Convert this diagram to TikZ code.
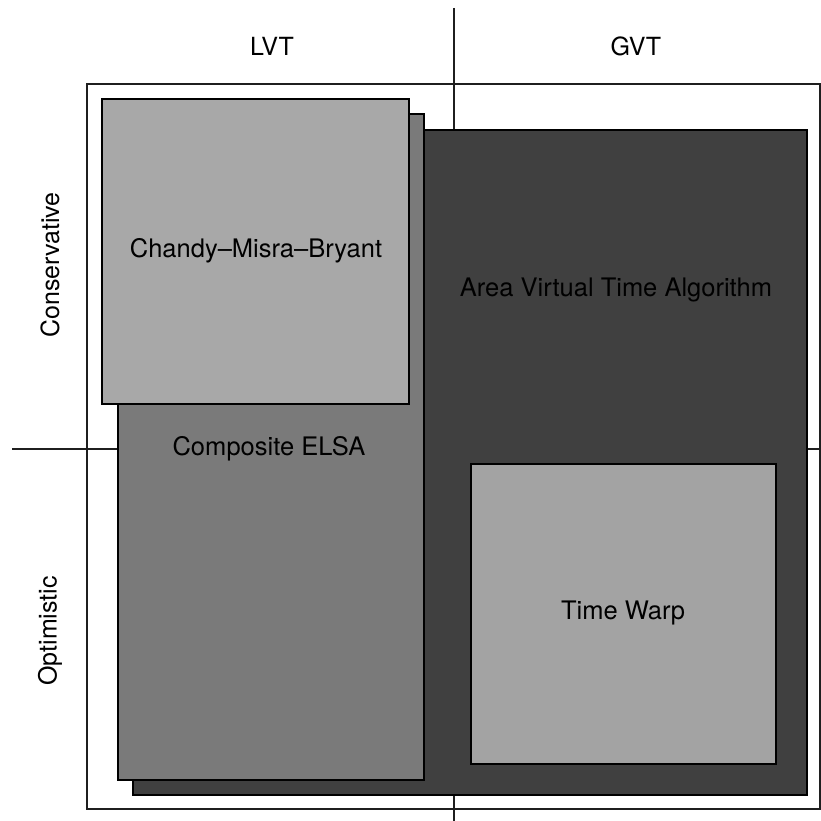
\documentclass[tikz,border=0pt]{standalone}
\usepackage{fontspec}
\setmainfont{TeX Gyre Heros}
\definecolor{lightbox}{gray}{0.66}
\definecolor{midbox}{gray}{0.48}
\definecolor{darkbox}{gray}{0.25}
\definecolor{warpbox}{gray}{0.64}
\definecolor{frameline}{gray}{0.12}
\begin{document}
\begin{tikzpicture}[x=1pt,y=-1pt,
  box/.style={draw=black,line width=1.6pt,inner sep=0pt,rectangle},
  axis/.style={draw=frameline,line width=1.5pt},
  lbl/.style={font=\fontsize{25.5}{30}\selectfont,text=black,inner sep=0pt},
  hdr/.style={font=\fontsize{25}{30}\selectfont,text=black,inner sep=0pt}]
\useasboundingbox (0,0) rectangle (821,821);
\fill[white] (0,0) rectangle (821,821);
% frame and axes
\coordinate (fTL) at (87,84);
\coordinate (fBR) at (820,809);
\draw[axis] (fTL) rectangle (fBR);
\coordinate (vT) at (454,8);
\coordinate (vB) at (454,821);
\coordinate (hL) at (12,449);
\coordinate (hR) at (821,449);
\draw[axis] (vT) -- (vB);
\draw[axis] (hL) -- (hR);
% boxes
\node[box,fill=darkbox,minimum width=674pt,minimum height=665pt] (avt) at (470,462.5) {};
\node[box,fill=midbox,minimum width=306pt,minimum height=666pt] (elsa) at (271,447) {};
\node[box,fill=lightbox,minimum width=307pt,minimum height=305pt] (cmb) at (255.5,251.5) {};
\node[box,fill=warpbox,minimum width=305pt,minimum height=300pt] (tw) at (623.5,614) {};
% labels
\node[lbl] (tcmb) at (256,251) {Chandy–Misra–Bryant};
\node[lbl] (tavt) at (616,290) {Area Virtual Time Algorithm};
\node[lbl] (telsa) at (269,449) {Composite ELSA};
\node[lbl] (ttw) at (623,613) {Time Warp};
\node[hdr] (lvt) at (272,46) {LVT};
\node[hdr] (gvt) at (636,46) {GVT};
\node[hdr,rotate=90] (cons) at (50,265) {Conservative};
\node[hdr,rotate=90] (opt) at (50,631) {Optimistic};
\end{tikzpicture}
\end{document}
